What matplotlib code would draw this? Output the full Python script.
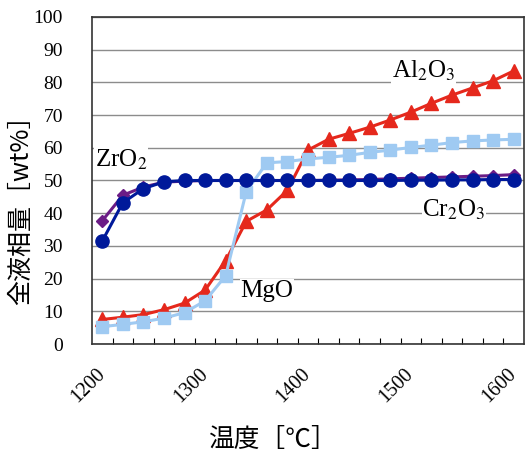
import numpy as np
import matplotlib
matplotlib.use('Agg')
import matplotlib.pyplot as plt

plt.rcParams['font.family'] = ['Liberation Serif', 'Noto Sans CJK JP', 'DejaVu Sans']
plt.rcParams['mathtext.fontset'] = 'stix'

# temperature steps [C]
temps = list(range(1200, 1601, 20))

# total liquid phase amount [wt%]
al2o3 = [7.5, 8.2, 9.0, 10.5, 12.5, 16.5, 25.5, 37.5, 41.0, 47.0, 59.3,
         62.6, 64.4, 66.3, 68.5, 70.9, 73.6, 76.1, 78.3, 80.5, 83.5]
mgo = [5.3, 6.0, 6.8, 7.9, 9.6, 13.2, 20.9, 46.6, 55.4, 55.8, 56.6,
       57.1, 57.7, 58.6, 59.3, 60.1, 60.8, 61.6, 62.1, 62.4, 62.6]
zro2 = [37.7, 45.5, 48.0, 49.5, 49.8, 50.0, 50.0, 50.0, 50.0, 50.0, 50.0,
        50.1, 50.2, 50.3, 50.5, 50.7, 50.9, 51.1, 51.3, 51.5, 51.8]
cr2o3 = [31.5, 43.2, 47.5, 49.6, 50.0, 50.0, 50.0, 50.0, 50.0, 50.0, 50.0,
         50.0, 50.0, 50.0, 50.0, 50.1, 50.1, 50.2, 50.2, 50.3, 50.3]

fig = plt.figure(figsize=(5.25, 4.53), dpi=100)
ax = fig.add_axes([0.1752, 0.2406, 0.8228, 0.7219])

ax.plot(temps, al2o3, color='#e5281c', lw=2.2, marker='^', ms=9.5, zorder=3)
ax.plot(temps, mgo, color='#9fcaf2', lw=2.2, marker='s', ms=8.5, zorder=4)
ax.plot(temps, zro2, color='#6b1c86', lw=2.2, marker='D', ms=6.5, zorder=5)
ax.plot(temps, cr2o3, color='#00199a', lw=2.2, marker='o', ms=9.5, zorder=6)

ax.set_xlim(1190, 1610)
ax.set_ylim(0, 100)
ax.set_yticks(np.arange(0, 101, 10))
ax.yaxis.grid(True, color='#8c8c8c', lw=1.0)
ax.set_axisbelow(True)
ax.tick_params(axis='y', length=0, pad=21, labelsize=14)

ax.set_xticks(range(1200, 1601, 100))
ax.set_xticks(range(1210, 1600, 20), minor=True)
ax.tick_params(axis='x', which='major', length=0, pad=20)
ax.tick_params(axis='x', which='minor', direction='in', length=4, width=0.8)
for lbl in ax.get_xticklabels():
    lbl.set_rotation(45)
    lbl.set_ha('right')
    lbl.set_va('center')
    lbl.set_rotation_mode('anchor')
    lbl.set_fontsize(14.5)

for s in ax.spines.values():
    s.set_color('#333333')
    s.set_linewidth(1.2)

lab = dict(fontsize=18, family='Liberation Serif', zorder=10,
           bbox=dict(fc='white', ec='none', pad=0.5))
ax.text(1512, 83.5, r'Al$_2$O$_3$', ha='center', va='center', **lab)
ax.text(1218, 56.3, r'ZrO$_2$', ha='center', va='center', **lab)
ax.text(1542, 41.0, r'Cr$_2$O$_3$', ha='center', va='center', **lab)
ax.text(1360, 16.2, 'MgO', ha='center', va='center', **lab)

fig.text(273 / 525, 1 - 440 / 453, '温度［℃］', ha='center', va='center',
         fontsize=18.5, family=['Noto Sans CJK JP', 'DejaVu Sans'])
fig.text(21 / 525, 1 - 204 / 453, '全液相量［wt%］', ha='center', va='center',
         rotation=90, fontsize=18, family=['Noto Sans CJK JP', 'DejaVu Sans'])

fig.savefig('out.png', dpi=100)
